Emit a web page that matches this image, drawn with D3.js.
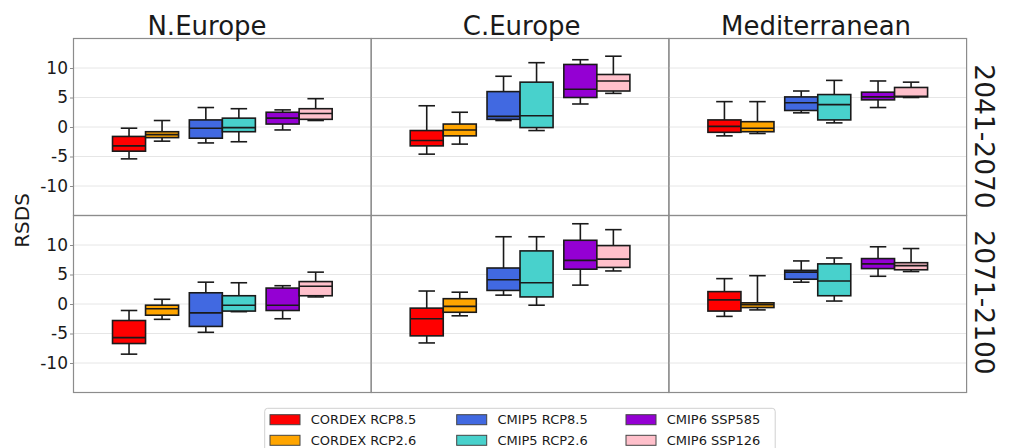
<!DOCTYPE html>
<html>
<head>
<meta charset="utf-8">
<script src="https://cdn.jsdelivr.net/npm/d3@7"></script>
<style>
  html, body { margin: 0; padding: 0; background: #fff; }
  svg { display: block; font-family: "DejaVu Sans", sans-serif; }
</style>
</head>
<body>
<svg id="chart" width="1010" height="448"></svg>
<script>
// Regions (columns) and periods (rows)
const regions = ["N.Europe", "C.Europe", "Mediterranean"];
const periods = ["2041-2070", "2071-2100"];

// Ensembles drawn in each region, paired by model generation
const series = ["CORDEX RCP8.5", "CORDEX RCP2.6", "CMIP5 RCP8.5", "CMIP5 RCP2.6", "CMIP6 SSP585", "CMIP6 SSP126"];
const seriesColors = ["#ff0000", "#ffa500", "#4169e1", "#48d1cc", "#9400d3", "#ffc0cb"];
const groups = ["CORDEX", "CMIP5", "CMIP6"];

// Box statistics per region: [lower whisker, Q1, median, Q3, upper whisker]
const stats2041 = [
  [ // N.Europe
    [-5.4, -4.1, -3.2, -1.6, -0.2],
    [-2.4, -1.8, -1.3, -0.8, 1.1],
    [-2.7, -1.9, -0.2, 1.2, 3.3],
    [-2.5, -0.8, -0.1, 1.5, 3.1],
    [-0.5, 0.5, 1.5, 2.5, 2.9],
    [1.1, 1.3, 2.3, 3.1, 4.8]
  ],
  [ // C.Europe
    [-4.6, -3.2, -2.3, -0.6, 3.6],
    [-2.9, -1.5, -0.5, 0.5, 2.5],
    [1.1, 1.3, 1.8, 6.0, 8.6],
    [-0.6, -0.1, 1.9, 7.6, 10.9],
    [3.9, 5.0, 6.4, 10.6, 11.4],
    [5.7, 6.1, 7.8, 8.9, 12.0]
  ],
  [ // Mediterranean
    [-1.5, -0.9, 0.1, 1.2, 4.3],
    [-1.1, -0.8, -0.2, 0.9, 4.3],
    [2.4, 2.8, 4.1, 5.1, 6.1],
    [0.7, 1.2, 3.8, 5.5, 7.9],
    [3.3, 4.6, 5.1, 5.9, 7.8],
    [5.0, 5.1, 5.2, 6.7, 7.6]
  ]
];
const stats2071 = [
  [ // N.Europe
    [-8.5, -6.7, -5.7, -2.8, -1.1],
    [-2.6, -1.9, -0.8, -0.2, 0.8],
    [-4.8, -3.8, -1.5, 1.9, 3.7],
    [-1.3, -1.2, -0.2, 1.4, 3.6],
    [-2.5, -1.1, -0.2, 2.7, 3.1],
    [1.2, 1.4, 3.0, 3.8, 5.4]
  ],
  [ // C.Europe
    [-6.6, -5.4, -2.5, -0.7, 2.2],
    [-2.0, -1.4, -0.4, 0.9, 2.0],
    [1.5, 2.3, 4.1, 6.1, 11.4],
    [-0.2, 1.2, 3.6, 9.0, 11.4],
    [3.2, 5.9, 7.4, 10.8, 13.6],
    [5.6, 6.2, 7.6, 9.9, 12.6]
  ],
  [ // Mediterranean
    [-2.1, -1.2, 0.7, 2.1, 4.3],
    [-1.0, -0.6, -0.1, 0.2, 4.8],
    [3.7, 4.2, 5.4, 5.7, 7.3],
    [0.5, 1.4, 3.9, 6.8, 7.8],
    [4.7, 6.0, 6.8, 7.7, 9.7],
    [5.5, 5.8, 6.5, 7.0, 9.4]
  ]
];
const statsByPeriod = [stats2041, stats2071];

const yTicks = [-10, -5, 0, 5, 10];

// Layout
const svg = d3.select("#chart");
const panelLeft = 73.5, panelWidth = 297.7;
const panelTop = 38.5, panelHeight = 177;
const boxWidth = 0.43;

const x = d3.scaleLinear().domain([-0.938, 2.938]).range([0, panelWidth]);
const y = d3.scaleLinear().domain([-15, 15]).range([panelHeight, 0]);

const ink = "#1a1a1a";
const spine = "#8c8c8c";

periods.forEach((period, r) => {
  regions.forEach((region, c) => {
    const g = svg.append("g")
      .attr("transform", `translate(${panelLeft + c * panelWidth},${panelTop + r * panelHeight})`);

    // Horizontal grid
    g.selectAll("line.grid").data(yTicks).join("line")
      .attr("class", "grid")
      .attr("x1", 0).attr("x2", panelWidth)
      .attr("y1", d => y(d)).attr("y2", d => y(d))
      .attr("stroke", "#e6e6e6").attr("stroke-width", 1);

    const data = statsByPeriod[r][c];
    data.forEach((s, i) => {
      const gi = Math.floor(i / 2);
      const side = i % 2;
      const x0 = x(gi) + (side === 0 ? -boxWidth : 0) * (x(1) - x(0));
      const x1 = x0 + boxWidth * (x(1) - x(0));
      const cx = (x0 + x1) / 2;
      const capHalf = (x1 - x0) / 4;
      const [lo, q1, med, q3, hi] = s;
      const bg = g.append("g");
      // whiskers
      bg.append("line").attr("x1", cx).attr("x2", cx).attr("y1", y(q3)).attr("y2", y(hi))
        .attr("stroke", ink).attr("stroke-width", 1.6);
      bg.append("line").attr("x1", cx).attr("x2", cx).attr("y1", y(q1)).attr("y2", y(lo))
        .attr("stroke", ink).attr("stroke-width", 1.6);
      bg.append("line").attr("x1", cx - capHalf).attr("x2", cx + capHalf).attr("y1", y(hi)).attr("y2", y(hi))
        .attr("stroke", ink).attr("stroke-width", 1.6);
      bg.append("line").attr("x1", cx - capHalf).attr("x2", cx + capHalf).attr("y1", y(lo)).attr("y2", y(lo))
        .attr("stroke", ink).attr("stroke-width", 1.6);
      // box
      bg.append("rect").attr("x", x0).attr("y", y(q3))
        .attr("width", x1 - x0).attr("height", y(q1) - y(q3))
        .attr("fill", seriesColors[i]).attr("stroke", ink).attr("stroke-width", 1.6);
      // median
      bg.append("line").attr("x1", x0).attr("x2", x1).attr("y1", y(med)).attr("y2", y(med))
        .attr("stroke", ink).attr("stroke-width", 1.6);
    });

    // Frame
    g.append("rect").attr("x", 0).attr("y", 0).attr("width", panelWidth).attr("height", panelHeight)
      .attr("fill", "none").attr("stroke", spine).attr("stroke-width", 1.2);

    // Left axis on first column
    if (c === 0) {
      const axis = d3.axisLeft(y).tickValues(yTicks).tickSize(3.5).tickPadding(2)
        .tickFormat(d => d3.format("d")(d).replace("−", "-"));
      const ag = g.append("g").call(axis);
      ag.select(".domain").remove();
      ag.selectAll(".tick line").attr("stroke", spine);
      ag.selectAll(".tick text").attr("fill", ink).style("font-size", "17px")
        .style("font-family", "DejaVu Sans, sans-serif");
    }
  });
});

// Column titles
const titleX = [207, 521.7, 816];
regions.forEach((region, c) => {
  svg.append("text").attr("x", titleX[c]).attr("y", 35)
    .attr("text-anchor", "middle").attr("fill", ink)
    .style("font-size", "26px").text(region);
});

// Row labels on the right
const rowLabelY = [136.5, 302.5];
periods.forEach((period, r) => {
  svg.append("text")
    .attr("transform", `translate(984,${rowLabelY[r]}) rotate(90)`)
    .attr("text-anchor", "middle").attr("dominant-baseline", "central")
    .attr("fill", ink).style("font-size", "26.5px").text(period);
});

// Y-axis label
svg.append("text")
  .attr("transform", "translate(21.5,220.5) rotate(-90)")
  .attr("text-anchor", "middle").attr("dominant-baseline", "central")
  .attr("fill", ink).style("font-size", "20px").text("RSDS");

// Legend
const legend = svg.append("g");
legend.append("rect").attr("x", 264.7).attr("y", 408.3).attr("width", 510.5).attr("height", 50)
  .attr("rx", 3).attr("fill", "#fff").attr("stroke", "#d0d0d0").attr("stroke-width", 1);
const colX = [270, 456.7, 626];
const rowY = [419.7, 440.3];
series.forEach((name, i) => {
  const col = Math.floor(i / 2), row = i % 2;
  legend.append("rect").attr("x", colX[col]).attr("y", rowY[row] - 5)
    .attr("width", 30).attr("height", 10)
    .attr("fill", seriesColors[i]).attr("stroke", "#444").attr("stroke-width", 1);
  legend.append("text").attr("x", colX[col] + 40.7).attr("y", rowY[row])
    .attr("dominant-baseline", "central").attr("fill", ink)
    .style("font-size", "13px").text(name);
});
</script>
</body>
</html>
